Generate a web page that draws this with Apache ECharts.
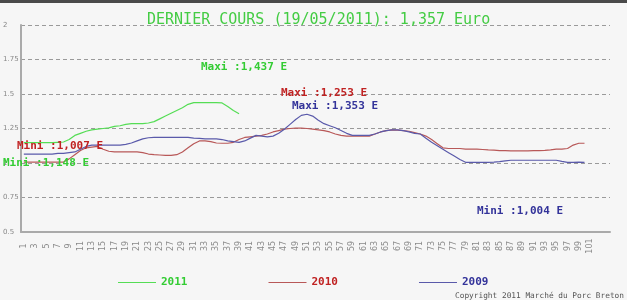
<!DOCTYPE html>
<html><head><meta charset="utf-8">
<script src="https://cdn.jsdelivr.net/npm/echarts@6/dist/echarts.min.js"></script>
<style>html,body{margin:0;padding:0;background:#f6f6f6}#c{width:627px;height:300px}</style>
</head><body><div id="c"></div>
<script>
// categories (weeks), padded slots at the end are unlabeled
const weeks = [];
for (let i = 1; i <= 101; i++) weeks.push(String(i));
const padSlots = ['', '', ''];
const categories = weeks.concat(padSlots);

const yTicks = [0.5, 0.75, 1, 1.25, 1.5, 1.75, 2];

const s2011 = [1.148,1.148,1.148,1.148,1.148,1.148,1.150,1.152,1.17,1.20,
  1.215,1.23,1.24,1.245,1.25,1.255,1.265,1.27,1.28,1.285,
  1.285,1.285,1.29,1.30,1.32,1.34,1.36,1.38,1.40,1.425,
  1.437,1.437,1.437,1.437,1.437,1.435,1.41,1.38,1.357];

const s2010 = [1.007,1.007,1.007,1.007,1.007,1.007,1.007,1.007,1.03,1.06,
  1.09,1.11,1.115,1.12,1.10,1.085,1.08,1.08,1.08,1.08,
  1.08,1.075,1.065,1.06,1.058,1.055,1.055,1.06,1.08,1.11,
  1.14,1.16,1.16,1.155,1.145,1.143,1.143,1.15,1.17,1.185,
  1.19,1.195,1.20,1.21,1.225,1.235,1.245,1.25,1.253,1.253,
  1.25,1.245,1.24,1.235,1.225,1.21,1.20,1.195,1.195,1.195,
  1.195,1.195,1.21,1.225,1.235,1.24,1.238,1.235,1.23,1.22,
  1.21,1.195,1.17,1.14,1.11,1.105,1.105,1.105,1.10,1.10,
  1.10,1.098,1.095,1.093,1.09,1.09,1.088,1.088,1.088,1.088,
  1.09,1.09,1.092,1.095,1.10,1.10,1.105,1.13,1.143,1.143];

const s2009 = [1.065,1.065,1.065,1.065,1.065,1.065,1.07,1.07,1.075,1.08,
  1.10,1.12,1.13,1.13,1.13,1.13,1.13,1.13,1.135,1.145,
  1.16,1.175,1.183,1.185,1.185,1.185,1.185,1.185,1.185,1.185,
  1.18,1.178,1.175,1.175,1.175,1.17,1.16,1.155,1.15,1.16,
  1.18,1.20,1.195,1.19,1.195,1.215,1.245,1.28,1.315,1.345,
  1.353,1.34,1.31,1.285,1.27,1.255,1.235,1.215,1.20,1.20,
  1.20,1.20,1.21,1.225,1.235,1.24,1.24,1.235,1.225,1.215,
  1.21,1.18,1.15,1.125,1.10,1.075,1.05,1.025,1.005,1.004,
  1.004,1.004,1.004,1.006,1.01,1.015,1.02,1.02,1.02,1.02,
  1.02,1.02,1.02,1.02,1.02,1.012,1.005,1.004,1.006,1.004];

const seriesNames = ['2011', '2010', '2009'];
const lineColors = ['#55dd55', '#b85858', '#5a5aaa'];
const textColors = ['#33cc33', '#c02222', '#33339a'];

const mono = '"DejaVu Sans Mono", monospace';

const chart = echarts.init(document.getElementById('c'), null, {renderer: 'canvas'});
function txt(x, y, t, color) {
  return {type: 'text', left: x, top: y - 7, z: 10,
    style: {text: t, fill: color, font: 'bold 11px ' + mono}};
}
chart.setOption({
  backgroundColor: '#f6f6f6',
  animation: false,
  title: {
    text: 'DERNIER COURS (19/05/2011): 1,357 Euro',
    left: 142, top: 8,
    textStyle: {color: '#44cc44', fontFamily: mono, fontSize: 15, fontWeight: 'normal'}
  },
  grid: {left: 20, right: 17, top: 25, bottom: 68, containLabel: false},
  legend: {
    left: 113, top: 272, itemWidth: 38, itemHeight: 1, itemGap: 81,
    icon: 'rect',
    data: seriesNames.map((n, i) => ({name: n, textStyle: {color: textColors[i]}})),
    textStyle: {fontFamily: mono, fontSize: 11, fontWeight: 'bold', padding: [0, 0, 0, 0]}
  },
  xAxis: {
    type: 'category', data: categories, boundaryGap: true,
    axisLine: {lineStyle: {color: '#aaaaaa', width: 2}},
    axisTick: {show: false},
    axisLabel: {rotate: 90, interval: 1, align: 'center', margin: 14,
      fontSize: 8, color: '#8a8a8a', fontFamily: 'DejaVu Sans'},
    splitLine: {show: false}
  },
  yAxis: {
    type: 'value', min: yTicks[0], max: yTicks[yTicks.length - 1], interval: 0.25,
    axisLine: {show: true, lineStyle: {color: '#aaaaaa', width: 2}},
    axisTick: {show: false},
    axisLabel: {align: 'left', margin: 18, fontSize: 7, color: '#888888', fontFamily: 'DejaVu Sans'},
    splitLine: {lineStyle: {type: [4, 3], color: '#9a9a9a', width: 1}}
  },
  series: [
    {name: seriesNames[0], type: 'line', data: s2011, symbol: 'none', z: 3,
      lineStyle: {color: lineColors[0], width: 1.2}, itemStyle: {color: lineColors[0]}},
    {name: seriesNames[1], type: 'line', data: s2010, symbol: 'none', z: 2,
      lineStyle: {color: lineColors[1], width: 1.2}, itemStyle: {color: lineColors[1]}},
    {name: seriesNames[2], type: 'line', data: s2009, symbol: 'none', z: 2,
      lineStyle: {color: lineColors[2], width: 1.2}, itemStyle: {color: lineColors[2]}}
  ],
  graphic: [
    {type: 'rect', left: 0, top: 0, shape: {width: 627, height: 3}, style: {fill: '#4a4a4a'}},
    txt(201, 69, 'Maxi :1,437 E', textColors[0]),
    txt(281, 95, 'Maxi :1,253 E', textColors[1]),
    txt(292, 108, 'Maxi :1,353 E', textColors[2]),
    txt(17, 148, 'Mini :1,007 E', textColors[1]),
    txt(3, 165, 'Mini :1,148 E', textColors[0]),
    txt(477, 213, 'Mini :1,004 E', textColors[2]),
    {type: 'text', right: 3, top: 292, style: {text: 'Copyright 2011 Marché du Porc Breton',
      fill: '#555555', font: '7.8px "DejaVu Sans Mono", monospace'}}
  ]
});
</script></body></html>
